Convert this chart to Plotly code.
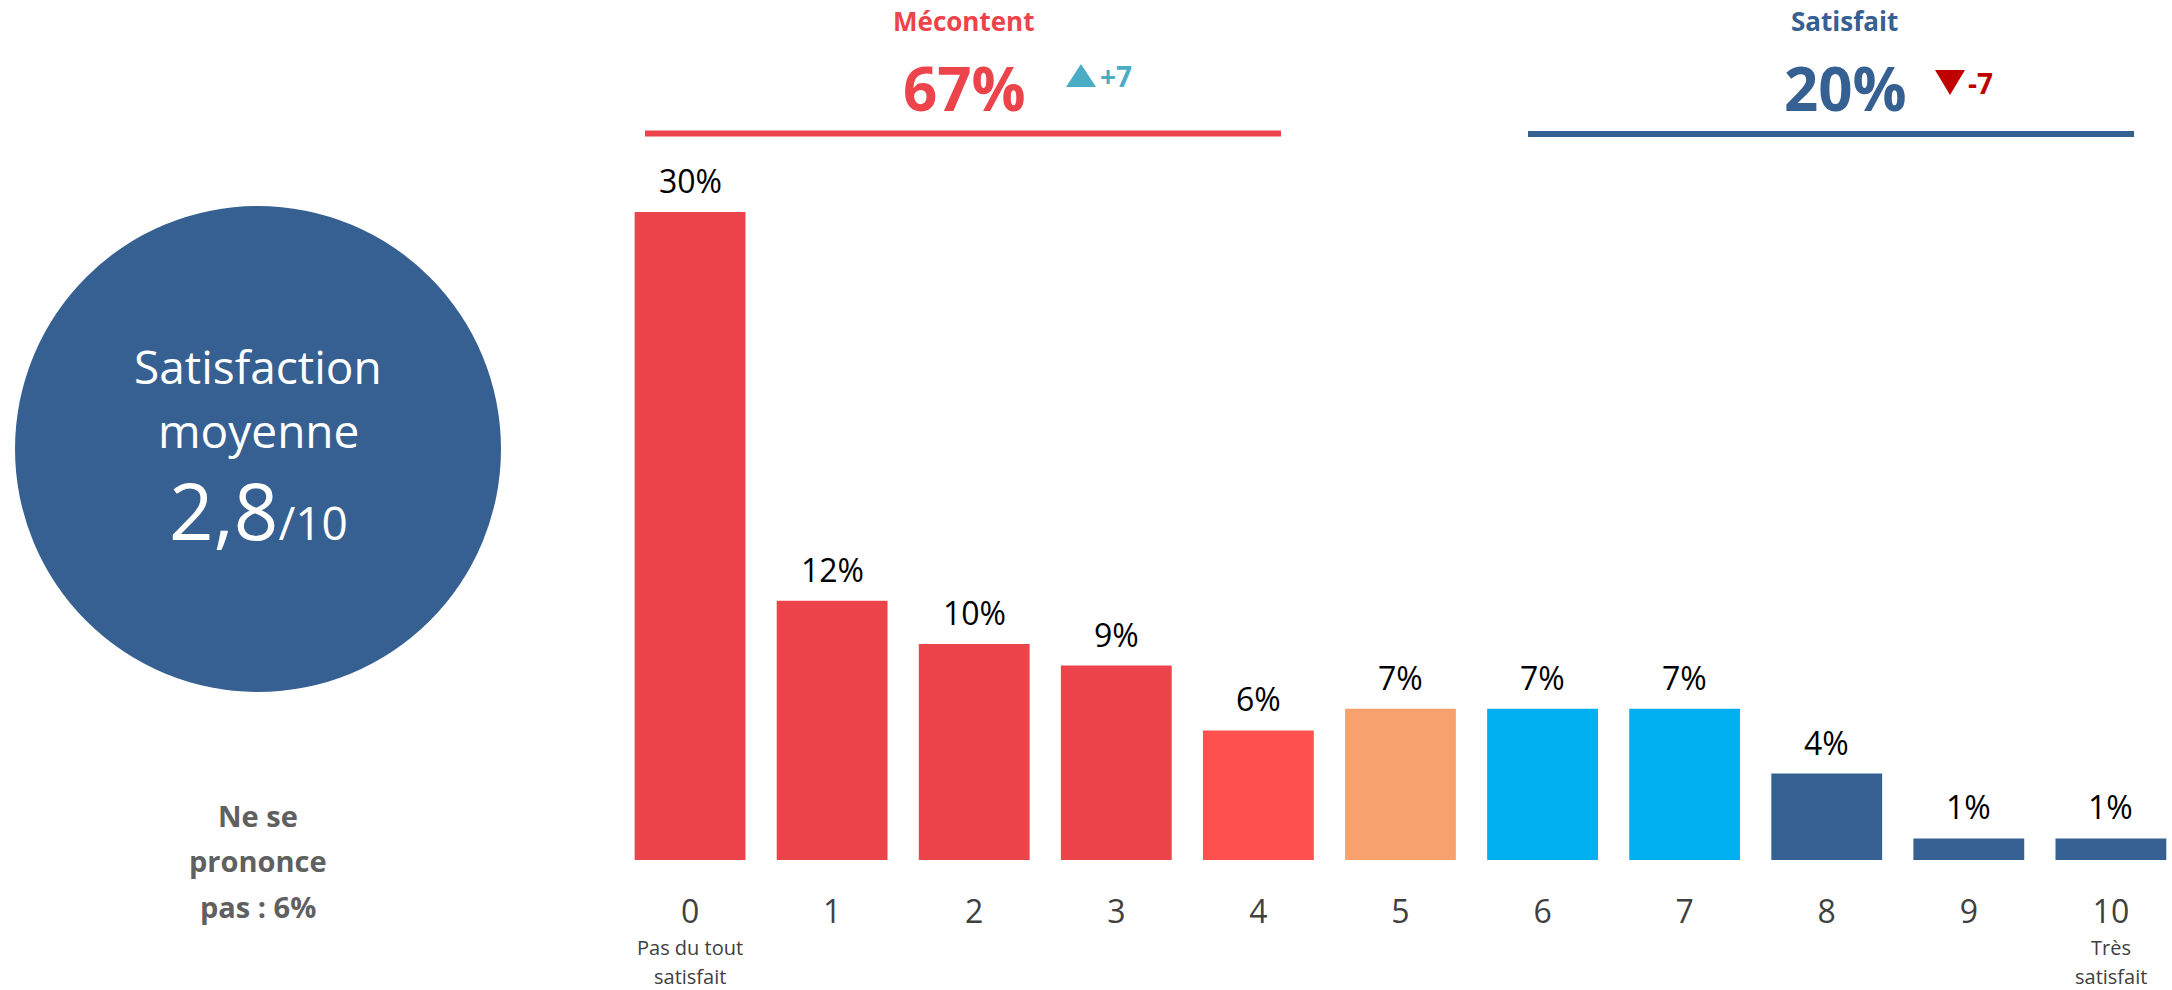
import plotly.graph_objects as go

# ---- data ----
categories = [str(i) for i in range(11)]
values = [30, 12, 10, 9, 6, 7, 7, 7, 4, 1, 1]
value_labels = ["30%", "12%", "10%", "9%", "6%", "7%", "7%", "7%", "4%", "1%", "1%"]
bar_colors = ["#EC444A", "#EC444A", "#EC444A", "#EC444A", "#FF5050", "#F7A26E",
              "#00B0F0", "#00B0F0", "#376092", "#376092", "#376092"]
group_titles = ["Mécontent", "Satisfait"]
group_values = ["67%", "20%"]
group_deltas = ["+7", "-7"]
mean_score = "2,8"
no_answer = "6%"

W, H = 2172, 990
ML, MR, MT, MB = 619, 0, 80, 130
PW, PH = W - ML - MR, H - MT - MB
FONT = "Open Sans"

def px(x):
    return (x - ML) / PW

def py(y):
    return (H - MB - y) / PH

RED = "#EC444A"
BLUE = "#376092"

fig = go.Figure()
fig.add_trace(go.Bar(
    x=list(range(len(categories))), y=values,
    marker=dict(color=bar_colors, line=dict(width=0)),
    hoverinfo="skip",
))

ann = []
# value labels above bars
for i, (v, t) in enumerate(zip(values, value_labels)):
    ann.append(dict(x=i, y=v, xref="x", yref="y", text=t, showarrow=False,
                    xanchor="center", yanchor="bottom", yshift=8,
                    font=dict(family=FONT, size=32, color="#000000")))

def label(x, y, text, size, color, xanchor="center", yanchor="middle"):
    ann.append(dict(x=px(x), y=py(y), xref="paper", yref="paper", text=text,
                    showarrow=False, xanchor=xanchor, yanchor=yanchor,
                    font=dict(family=FONT, size=size, color=color)))

# subtitles under extreme ticks
for xi, lines in [(0, ["Pas du tout", "satisfait"]), (10, ["Très", "satisfait"])]:
    for txt, yy in zip(lines, [947, 977]):
        ann.append(dict(x=xi, y=py(yy), xref="x", yref="paper", text=txt,
                        showarrow=False, xanchor="center", yanchor="middle",
                        font=dict(family=FONT, size=20, color="#404040")))

# group headers
label(963, 21, f"<b>{group_titles[0]}</b>", 26, RED)
label(964, 88, f"<b>{group_values[0]}</b>", 60, RED)
label(1098, 76, f"<b>{group_deltas[0]}</b>", 28, "#4BACC6", xanchor="left")
label(1844, 21, f"<b>{group_titles[1]}</b>", 26, BLUE)
label(1845, 88, f"<b>{group_values[1]}</b>", 60, BLUE)
label(1966, 83, f"<b>{group_deltas[1]}</b>", 28, "#C00000", xanchor="left")

# circle texts
label(258, 366, "Satisfaction", 46, "white")
label(258, 430, "moyenne", 46, "white")
label(258, 510, f"{mean_score}<span style='font-size:46px'>/10</span>", 78, "white")

# no answer
for txt, yy in zip(["Ne se", "prononce", f"pas : {no_answer}"], [815, 860, 906]):
    label(258, yy, f"<b>{txt}</b>", 29, "#606060")

shapes = [
    dict(type="circle", xref="paper", yref="paper", x0=px(15), x1=px(501), y0=py(692), y1=py(206),
         fillcolor=BLUE, line=dict(width=0), layer="below"),
    dict(type="line", xref="paper", yref="paper", x0=px(645), x1=px(1281), y0=py(133.5), y1=py(133.5),
         line=dict(color=RED, width=6)),
    dict(type="line", xref="paper", yref="paper", x0=px(1528), x1=px(2134), y0=py(134), y1=py(134),
         line=dict(color=BLUE, width=6)),
    dict(type="path", xref="paper", yref="paper",
         path=f"M {px(1066)} {py(87)} L {px(1096)} {py(87)} L {px(1081)} {py(64)} Z",
         fillcolor="#4BACC6", line=dict(width=0)),
    dict(type="path", xref="paper", yref="paper",
         path=f"M {px(1935)} {py(70)} L {px(1965)} {py(70)} L {px(1950)} {py(95)} Z",
         fillcolor="#C00000", line=dict(width=0)),
]

fig.update_layout(
    width=W, height=H,
    margin=dict(l=ML, r=MR, t=MT, b=MB, pad=0),
    paper_bgcolor="white", plot_bgcolor="white",
    showlegend=False, bargap=0.22,
    annotations=ann, shapes=shapes,
    xaxis=dict(range=[-0.5, 10.43], tickmode="array", tickvals=list(range(11)), ticktext=categories,
               showgrid=False, zeroline=False, showline=False,
               ticks="outside", ticklen=24, tickcolor="rgba(0,0,0,0)",
               tickfont=dict(family=FONT, size=32, color="#404040")),
    yaxis=dict(range=[0, PH / 21.6], visible=False, showgrid=False, zeroline=False),
)

fig.write_html("out.html", config={"displayModeBar": False},
               post_script="document.body.style.margin='0';document.body.style.overflow='hidden';")
